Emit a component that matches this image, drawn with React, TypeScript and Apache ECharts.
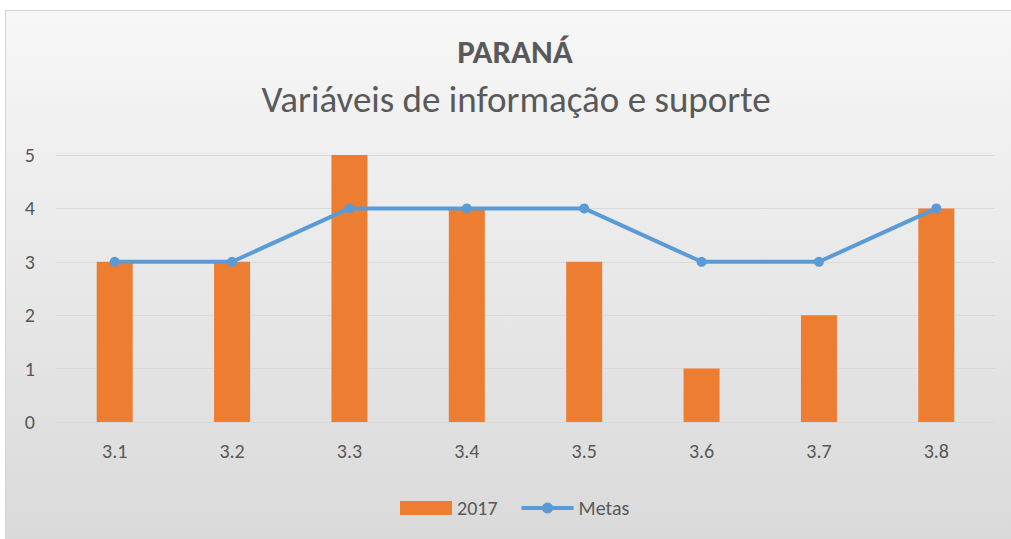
import React, { useEffect, useRef } from "react";
import * as echarts from "echarts";

const categories = ["3.1", "3.2", "3.3", "3.4", "3.5", "3.6", "3.7", "3.8"];
const values2017 = [3, 3, 5, 4, 3, 1, 2, 4];
const metas = [3, 3, 4, 4, 4, 3, 3, 4];
const yTicks = [0, 1, 2, 3, 4, 5];

const FONT = "Carlito, Lato, 'Open Sans', sans-serif";
const TEXT = "#595959";

export default function App() {
  const ref = useRef<HTMLDivElement>(null);
  useEffect(() => {
    const chart = echarts.init(ref.current!, undefined, { renderer: "svg" });
    chart.setOption({
      animation: false,
      backgroundColor: "#ffffff",
      textStyle: { fontFamily: FONT },
      graphic: [
        {
          type: "rect",
          z: -10,
          silent: true,
          shape: { x: 5.5, y: 10.5, width: 1011, height: 540 },
          style: {
            fill: new echarts.graphic.LinearGradient(0, 0, 0, 1, [
              { offset: 0, color: "#f7f7f7" },
              { offset: 1, color: "#d9d9d9" },
            ]),
            stroke: "#d4d4d4",
            lineWidth: 1,
          },
        },
        {
          type: "text",
          x: 515,
          y: 52,
          style: {
            text: "PARANÁ",
            font: `bold 33px ${FONT}`,
            fill: TEXT,
            align: "center",
            verticalAlign: "middle",
          },
        },
        {
          type: "text",
          x: 516,
          y: 99,
          style: {
            text: "Variáveis de informação e suporte",
            font: `37px ${FONT}`,
            fill: TEXT,
            align: "center",
            verticalAlign: "middle",
          },
        },
      ],
      grid: { left: 56, right: 16, top: 155, bottom: 117, containLabel: false },
      xAxis: {
        type: "category",
        data: categories,
        axisLine: { show: false },
        axisTick: { show: false },
        axisLabel: { color: TEXT, fontSize: 20, margin: 19, fontFamily: FONT },
      },
      yAxis: {
        type: "value",
        min: yTicks[0],
        max: yTicks[yTicks.length - 1],
        interval: 1,
        axisLine: { show: false },
        axisTick: { show: false },
        splitLine: { lineStyle: { color: "#d9d9d9", width: 1 } },
        axisLabel: { color: TEXT, fontSize: 20, margin: 21, fontFamily: FONT },
      },
      legend: {
        top: 493,
        left: 395,
        itemWidth: 52,
        itemHeight: 14,
        itemGap: 22,
        textStyle: { color: TEXT, fontSize: 20, fontFamily: FONT },
        data: [
          { name: "2017", icon: "rect" },
          { name: "Metas", lineStyle: { width: 4, color: "#5B9BD5" } },
        ],
      },
      series: [
        {
          name: "2017",
          type: "bar",
          data: values2017,
          barWidth: 36,
          itemStyle: { color: "#ED7D31" },
        },
        {
          name: "Metas",
          type: "line",
          data: metas,
          symbol: "circle",
          symbolSize: 10,
          lineStyle: { color: "#5B9BD5", width: 4 },
          itemStyle: { color: "#5B9BD5" },
        },
      ],
    });
    return () => chart.dispose();
  }, []);
  return (
    <div
      ref={ref}
      style={{ position: "absolute", left: 0, top: 0, width: 1011, height: 539 }}
    />
  );
}
